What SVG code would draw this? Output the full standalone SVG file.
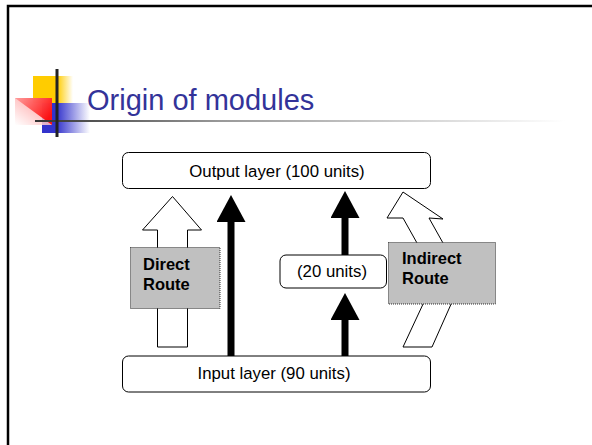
<svg xmlns="http://www.w3.org/2000/svg" width="592" height="445" viewBox="0 0 592 445">
  <defs>
    <style>
      .frame { fill: none; stroke: #000; stroke-width: 2.5; }
      .box { fill: #fff; stroke: #000; stroke-width: 1; }
      .note { fill: #c0c0c0; stroke: #000; stroke-width: 0.8; stroke-dasharray: 1 1; }
      .lbl { font-family: "Liberation Sans", Arial, sans-serif; font-size: 16.8px; fill: #000; text-anchor: middle; }
      .bold { font-family: "Liberation Sans", Arial, sans-serif; font-size: 16.5px; font-weight: bold; fill: #000; }
      .title { font-family: "Liberation Sans", Tahoma, sans-serif; font-size: 29px; fill: #333399; }
      .hollow { fill: #fff; stroke: #000; stroke-width: 1; stroke-linejoin: miter; }
      .solid { fill: none; stroke: #000; stroke-width: 7; }
    </style>
    <marker id="head" viewBox="0 0 27 29" refX="0" refY="14.5" markerWidth="27" markerHeight="29" markerUnits="userSpaceOnUse" orient="auto">
      <path d="M0,0 L27,14.5 L0,29 Z" fill="#000"/>
    </marker>
    <linearGradient id="rule" x1="35" y1="0" x2="565" y2="0" gradientUnits="userSpaceOnUse">
      <stop offset="0" stop-color="#333"/>
      <stop offset="0.35" stop-color="#999"/>
      <stop offset="1" stop-color="#fff"/>
    </linearGradient>
    <linearGradient id="yel" x1="0" y1="0" x2="1" y2="0">
      <stop offset="0" stop-color="#ffcc00"/>
      <stop offset="0.6" stop-color="#ffcc00"/>
      <stop offset="1" stop-color="#ffcc00" stop-opacity="0"/>
    </linearGradient>
    <linearGradient id="blu" x1="0" y1="0" x2="1" y2="0">
      <stop offset="0" stop-color="#3333cc"/>
      <stop offset="0.3" stop-color="#3333cc"/>
      <stop offset="1" stop-color="#3333cc" stop-opacity="0"/>
    </linearGradient>
    <linearGradient id="pink" x1="1" y1="0" x2="0" y2="1">
      <stop offset="0" stop-color="#ff8080"/>
      <stop offset="1" stop-color="#fff"/>
    </linearGradient>
    <linearGradient id="red" x1="0" y1="0" x2="1" y2="0.6">
      <stop offset="0" stop-color="#ff9999"/>
      <stop offset="1" stop-color="#ff0000"/>
    </linearGradient>
  </defs>

  <rect width="592" height="445" fill="#fff"/>

  <!-- slide frame -->
  <path class="frame" d="M8,445 L8,6 L592,6"/>

  <!-- title block with logo -->
  <g id="title">
    <rect x="33" y="76" width="40" height="27" fill="url(#yel)"/>
    <rect x="42" y="103" width="48" height="30" fill="url(#blu)"/>
    <rect x="15" y="98" width="37" height="27" fill="url(#pink)" opacity="0.85"/>
    <polygon points="15,98 52,98 52,125" fill="url(#red)" opacity="0.9"/>
    <line x1="35" y1="121" x2="565" y2="121" stroke="url(#rule)" stroke-width="2"/>
    <line x1="57" y1="69" x2="57" y2="137" stroke="#222" stroke-width="3"/>
    <text class="title" x="87" y="110">Origin of modules</text>
  </g>

  <!-- connectors -->
  <g id="connectors">
    <polygon class="hollow" points="157.5,347 157.5,230 142.5,230 172.5,196.5 201.5,230 187.5,230 187.5,347"/>
    <path class="hollow" d="M403,347 L424,302 Q434,272 417,243 L403,218 L387,218 L403,192 L443,219 L429,218 L443,243 Q462,272 452,302 L432,347 Z"/>
    <path class="solid" d="M231,356 L231,222" marker-end="url(#head)"/>
    <path class="solid" d="M345,255 L345,218" marker-end="url(#head)"/>
    <path class="solid" d="M345,356 L345,320" marker-end="url(#head)"/>
  </g>

  <!-- nodes -->
  <g id="output-layer">
    <rect class="box" x="122.5" y="152.5" width="308" height="36" rx="6"/>
    <text class="lbl" x="277" y="176.5">Output layer (100 units)</text>
  </g>
  <g id="input-layer">
    <rect class="box" x="122.5" y="356" width="308" height="36" rx="6"/>
    <text class="lbl" x="274" y="379">Input layer (90 units)</text>
  </g>
  <g id="hidden-layer">
    <rect class="box" x="280" y="255" width="106.5" height="33" rx="6"/>
    <text class="lbl" x="332" y="276.5">(20 units)</text>
  </g>
  <g id="direct-route">
    <rect class="note" x="130.5" y="247.5" width="89.5" height="61"/>
    <text class="bold" x="143" y="270">Direct</text>
    <text class="bold" x="143" y="289.5">Route</text>
  </g>
  <g id="indirect-route">
    <rect class="note" x="388.5" y="242.5" width="107" height="61.5"/>
    <text class="bold" x="402" y="263.5">Indirect</text>
    <text class="bold" x="402" y="284">Route</text>
  </g>
</svg>
